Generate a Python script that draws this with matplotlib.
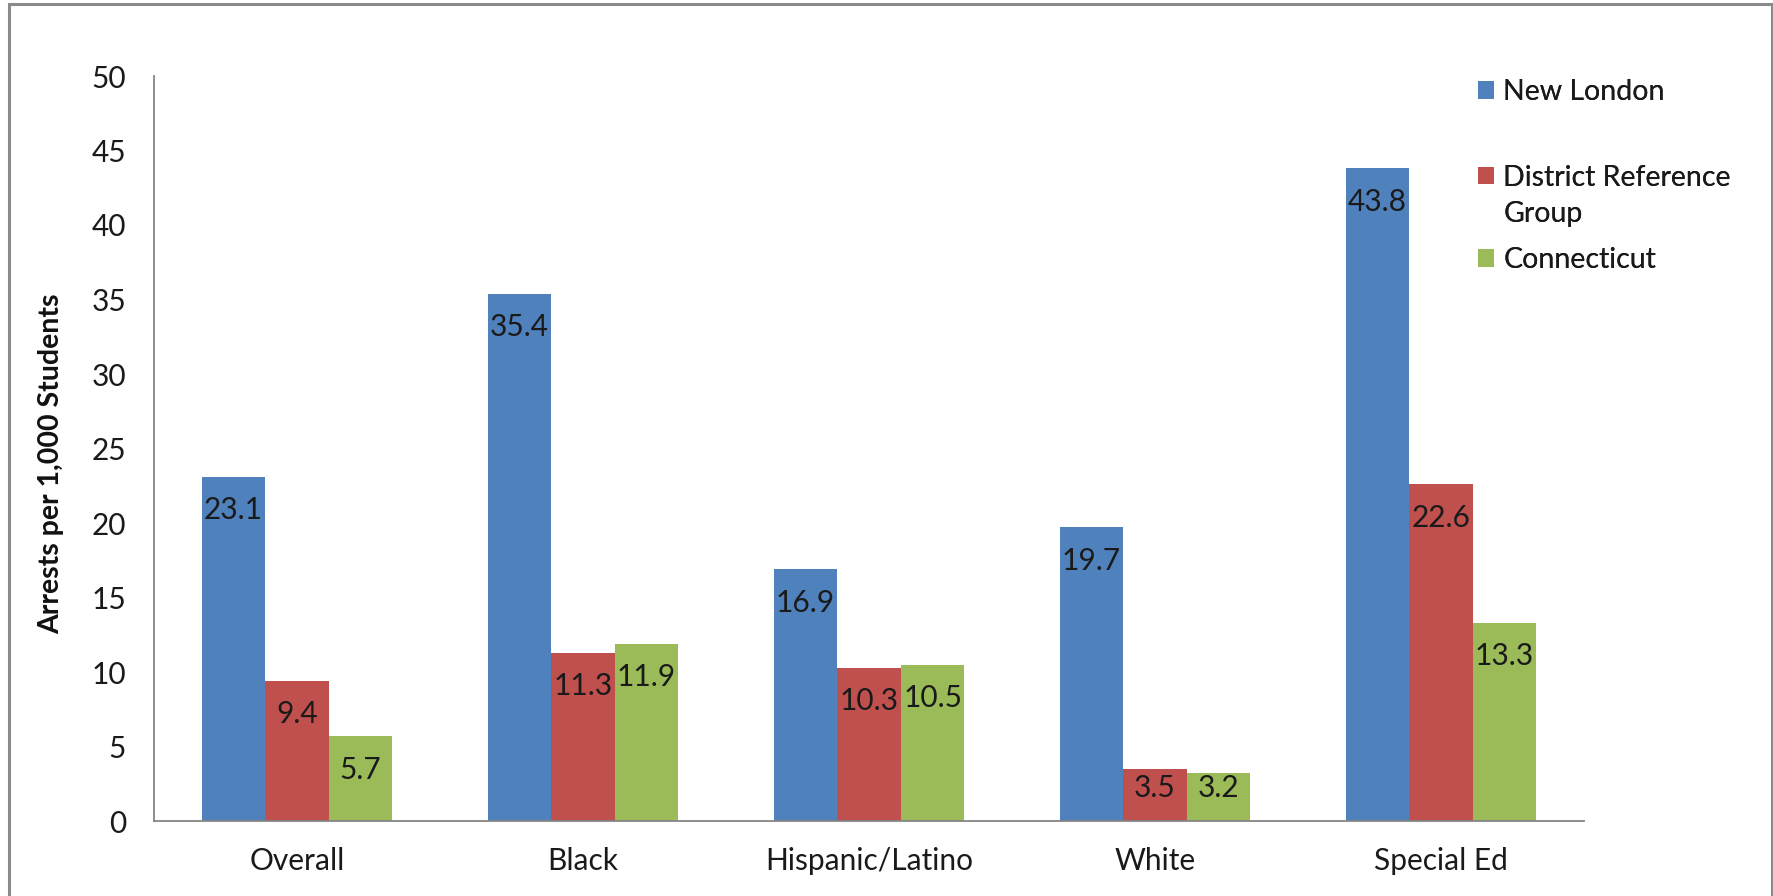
import matplotlib
matplotlib.use("Agg")
import matplotlib.pyplot as plt
from matplotlib.patches import Patch, Rectangle
import numpy as np

categories = ["Overall", "Black", "Hispanic/Latino", "White", "Special Ed"]
new_london = [23.1, 35.4, 16.9, 19.7, 43.8]
district_ref = [9.4, 11.3, 10.3, 3.5, 22.6]
connecticut = [5.7, 11.9, 10.5, 3.2, 13.3]
series_names = ["New London", "District Reference\nGroup", "Connecticut"]
yticks = [0, 5, 10, 15, 20, 25, 30, 35, 40, 45, 50]
ylabel = "Arrests per 1,000 Students"

colors = ["#4F81BD", "#C0504D", "#9BBB59"]

plt.rcParams['font.family'] = ['Lato', 'DejaVu Sans']

W, H = 1774, 896
FS = 21.5
LFS = 20.5
fig = plt.figure(figsize=(W / 100, H / 100), dpi=100)
fig.patch.set_facecolor("white")

# outer chart border
fig.add_artist(Rectangle((9 / W, -0.02), (1772 - 9) / W, 1 - 4 / H + 0.02,
                         transform=fig.transFigure, fill=False,
                         edgecolor="#8a8a8a", linewidth=2.2))

ax = fig.add_axes([154 / W, 1 - 821 / H, (1584 - 154) / W, (821 - 76) / H])

x = np.arange(len(categories))
bw = 1 / 4.5
data = [new_london, district_ref, connecticut]
for i, (vals, c) in enumerate(zip(data, colors)):
    xs = x + (i - 1) * bw
    ax.bar(xs, vals, width=bw, color=c, edgecolor="none", zorder=2)
    for xi, v in zip(xs, vals):
        ax.text(xi, max(v - 2.25, 2.2), f"{v}", ha="center", va="center",
                fontsize=FS, color="#1a1a1a", zorder=3)

ax.set_xlim(-0.5, len(categories) - 0.5)
ax.set_ylim(0, 50)
ax.set_yticks(yticks)
ax.set_xticks(x)
ax.set_xticklabels(categories)
ax.tick_params(axis="both", length=0, labelsize=FS, colors="#1a1a1a", pad=20)
ax.tick_params(axis="x", pad=19)
for s in ["top", "right"]:
    ax.spines[s].set_visible(False)
for s in ["left", "bottom"]:
    ax.spines[s].set_color("#868686")
    ax.spines[s].set_linewidth(1.3)

ax.set_ylabel(ylabel, fontsize=20.5, fontweight="bold", color="#111111", va="center")
ax.yaxis.set_label_coords((51 - 154) / (1584 - 154), (821 - 464) / (821 - 76))

# legend entries, positioned individually (Excel-like uneven spacing)
entries = [
    ([Patch(facecolor=colors[0], edgecolor="none")], ["New London"], 92),
    ([Patch(facecolor=colors[1], edgecolor="none"), Patch(visible=False)],
     series_names[1].split("\n"), 196),
    ([Patch(facecolor=colors[2], edgecolor="none")], ["Connecticut"], 260),
]
for handles, labels, ly in entries:
    leg = fig.legend(handles, labels,
                     loc="center left", bbox_to_anchor=(1478 / W, 1 - ly / H),
                     frameon=False, fontsize=LFS, handlelength=0.57,
                     handleheight=0.57, handletextpad=0.32, borderpad=0,
                     borderaxespad=0, labelspacing=0.37)
    for t in leg.get_texts():
        t.set_color("#1a1a1a")
    fig.add_artist(leg)

fig.savefig("out.png", dpi=100, facecolor="white")
